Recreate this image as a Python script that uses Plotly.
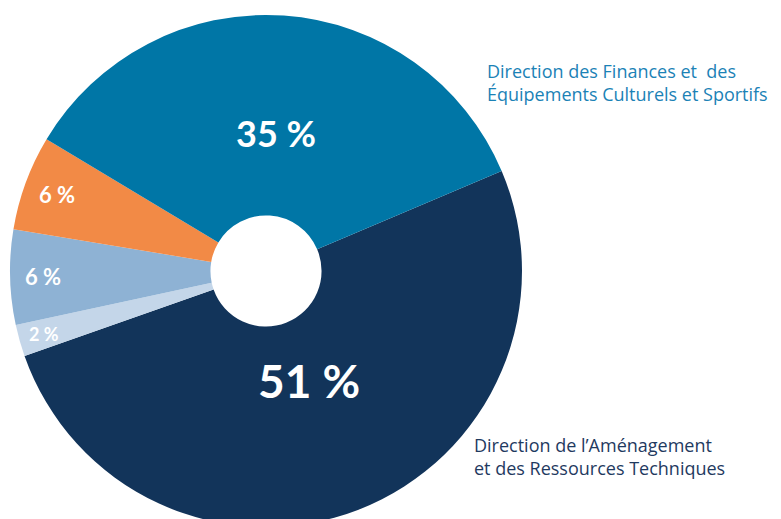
import math
import plotly.graph_objects as go

# ---- data ----
slice_names = [
    "Direction de l’Aménagement et des Ressources Techniques",
    "Autre direction A",
    "Autre direction B",
    "Autre direction C",
    "Direction des Finances et des Équipements Culturels et Sportifs",
]
slice_values = [51, 2, 6, 6, 35]
slice_text = ["51 %", "2 %", "6 %", "6 %", "35 %"]
slice_colors = ["#12345A", "#C4D6E9", "#8EB2D4", "#F28A46", "#0076A6"]

label_teal = "Direction des Finances et  des<br>Équipements Culturels et Sportifs"
label_navy = "Direction de l’Aménagement<br>et des Ressources Techniques"

# ---- layout / style constants ----
W, H = 781, 535
CX, CY, R = 266, 271, 256          # pie centre and radius in px (from top-left)
ROTATION = 67
text_sizes = [46, 18, 22, 22, 36]
text_radius = [0.46, 0.90, 0.87, 0.87, 0.54]   # label distance as fraction of radius

fig = go.Figure()
fig.add_trace(go.Pie(
    labels=slice_names,
    values=slice_values,
    textinfo="none",
    marker=dict(colors=slice_colors, line=dict(width=0)),
    hole=0.217,
    sort=False,
    direction="clockwise",
    rotation=ROTATION,
    domain=dict(x=[(CX - R) / W, (CX + R) / W], y=[(H - CY - R) / H, (H - CY + R) / H]),
    showlegend=False,
    hoverinfo="label+percent",
))

# percentage labels placed at each slice's mid-angle
total = sum(slice_values)
start = ROTATION
for v, t, s, rf in zip(slice_values, slice_text, text_sizes, text_radius):
    span = 360 * v / total
    mid = math.radians(start + span / 2)
    start += span
    px = CX + rf * R * math.sin(mid)
    py = CY - rf * R * math.cos(mid)
    fig.add_annotation(
        x=px / W, y=1 - py / H, xref="paper", yref="paper",
        xanchor="center", yanchor="middle", showarrow=False,
        text=t, font=dict(family="Lato", size=s, color="white", weight=700),
    )

fig.add_annotation(
    x=485 / W, y=1 - 82 / H, xref="paper", yref="paper",
    xanchor="left", yanchor="middle", align="left", showarrow=False,
    text=label_teal, font=dict(family="Open Sans", size=18, color="#1B82B6"),
)
fig.add_annotation(
    x=472 / W, y=1 - 456 / H, xref="paper", yref="paper",
    xanchor="left", yanchor="middle", align="left", showarrow=False,
    text=label_navy, font=dict(family="Open Sans", size=18, color="#1F3A5F"),
)

fig.update_layout(
    width=W, height=H,
    margin=dict(l=0, r=0, t=0, b=0),
    paper_bgcolor="white",
    plot_bgcolor="white",
)

fig.write_html(
    "out.html",
    config={"displayModeBar": False},
    post_script="document.body.style.margin='0';document.body.style.overflow='hidden';document.documentElement.style.overflow='hidden';",
)
